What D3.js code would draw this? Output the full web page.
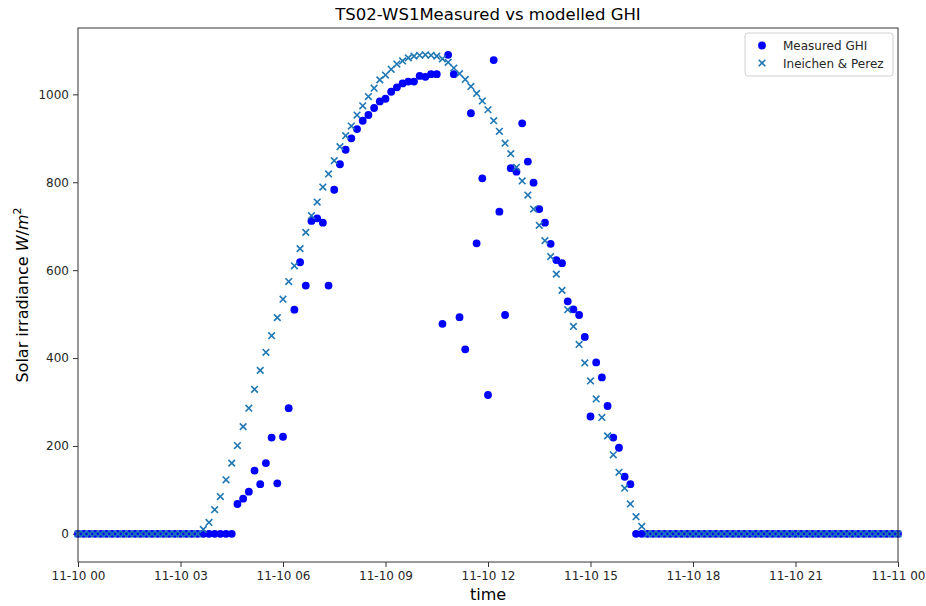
<!DOCTYPE html>
<html><head><meta charset="utf-8">
<script src="https://cdn.jsdelivr.net/npm/d3@7"></script>
<style>body{margin:0;background:#fff;} text{font-family:"DejaVu Sans",sans-serif;}</style>
</head><body>
<svg id="chart" width="926" height="606"></svg>
<script>
// 10-minute samples from 11-10 00:00 to 11-11 00:00
const startTime = "2020-11-10T00:00:00Z";
const stepMinutes = 10;
const measuredGHI = [
0,0,0,0,0,0,0,0,0,0, 0,0,0,0,0,0,0,0,0,0, 0,0,0,0,0,0,0,0,68,80,
96,144,113,161,219,115,221,286,510,618, 565,712,718,708,565,783,841,874,900,921,
940,953,969,984,990,1006,1016,1025,1029,1029, 1042,1040,1046,1046,478,1090,1046,493,420,957,
661,809,316,1078,733,498,832,824,934,847, 799,739,708,660,623,616,529,511,498,448,
267,390,356,291,219,196,130,113,0,0, 0,0,0,0,0,0,0,0,0,0,
0,0,0,0,0,0,0,0,0,0, 0,0,0,0,0,0,0,0,0,0, 0,0,0,0,0,0,0,0,0,0,
0,0,0,0,0
];
const ineichenPerez = [
0,0,0,0,0,0,0,0,0,0, 0,0,0,0,0,0,0,0,0,0, 0,0,10,26,55,85,123,161,201,244,
286,329,372,413,451,492,534,574,610,649, 686,724,755,789,819,849,881,906,928,953,
974,995,1014,1033,1044,1057,1069,1076,1083,1087, 1089,1090,1089,1087,1081,1073,1060,1047,1034,1018,
1002,985,965,940,916,889,865,834,803,771, 739,702,667,631,591,554,510,472,431,389,
348,307,265,223,180,140,104,68,39,17, 0,0,0,0,0,0,0,0,0,0,
0,0,0,0,0,0,0,0,0,0, 0,0,0,0,0,0,0,0,0,0, 0,0,0,0,0,0,0,0,0,0,
0,0,0,0,0
];
const yTicks = [0,200,400,600,800,1000];
const xTickHours = [0,3,6,9,12,15,18,21,24];
const seriesNames = ["Measured GHI","Ineichen & Perez"];
const yDomain = [-64, 1151];

const t0 = new Date(startTime);
const times = measuredGHI.map((_, i) => new Date(t0.getTime() + i*stepMinutes*60000));

const svg = d3.select("#chart");
const m = {left:78, right:28, top:28, bottom:44};
const W = 926, H = 606;
const x = d3.scaleUtc().domain([times[0], times[times.length-1]]).range([m.left, W-m.right]);
const y = d3.scaleLinear().domain(yDomain).range([H-m.bottom, m.top]);

// axes
const xTickVals = xTickHours.map(h => new Date(t0.getTime() + h*3600000));
const fmt = d3.utcFormat("%m-%d %H");
const xAxis = svg.append("g").attr("transform",`translate(0,${H-m.bottom})`)
  .call(d3.axisBottom(x).tickValues(xTickVals).tickFormat(fmt).tickSizeOuter(0).tickSize(5).tickPadding(4));
const yAxis = svg.append("g").attr("transform",`translate(${m.left},0)`)
  .call(d3.axisLeft(y).tickValues(yTicks).tickFormat(d3.format("d")).tickSizeOuter(0).tickSize(5).tickPadding(4));
[xAxis,yAxis].forEach(a=>{
  a.select(".domain").remove();
  a.selectAll("text").attr("font-size",12).attr("fill","#262626").attr("font-family","DejaVu Sans");
  a.selectAll("line").attr("stroke","#333");
});

// measured points
svg.append("g").selectAll("circle").data(measuredGHI).join("circle")
  .attr("cx",(d,i)=>x(times[i])).attr("cy",d=>y(d)).attr("r",3.9).attr("fill","#0000ff");

// modelled crosses
const crossPath = "M-3.3,-3.3L3.3,3.3M-3.3,3.3L3.3,-3.3";
svg.append("g").selectAll("path").data(ineichenPerez).join("path")
  .attr("d",crossPath).attr("transform",(d,i)=>`translate(${x(times[i])},${y(d)})`)
  .attr("stroke","#1f77b4").attr("stroke-width",1.6).attr("fill","none");

// frame
svg.append("rect").attr("x",m.left).attr("y",m.top).attr("width",W-m.left-m.right).attr("height",H-m.top-m.bottom)
  .attr("fill","none").attr("stroke","#333").attr("stroke-width",1);

// title & labels
svg.append("text").attr("x",(m.left+W-m.right)/2).attr("y",20).attr("text-anchor","middle")
  .attr("font-size",16.5).attr("fill","#000").text("TS02-WS1Measured vs modelled GHI");
svg.append("text").attr("x",(m.left+W-m.right)/2).attr("y",600).attr("text-anchor","middle")
  .attr("font-size",16).attr("fill","#000").text("time");
const yl = svg.append("text").attr("transform",`translate(28,${(m.top+H-m.bottom)/2}) rotate(-90)`)
  .attr("text-anchor","middle").attr("font-size",16).attr("fill","#000");
yl.append("tspan").text("Solar irradiance ");
yl.append("tspan").attr("font-style","italic").text("W");
yl.append("tspan").text("/");
yl.append("tspan").attr("font-style","italic").text("m");
yl.append("tspan").attr("dy",-7).attr("font-size",11).text("2");

// legend
const lg = svg.append("g").attr("transform","translate(745,33)");
lg.append("rect").attr("width",148).attr("height",43).attr("rx",3).attr("fill","#fff").attr("fill-opacity",0.8)
  .attr("stroke","#d0d0d0");
lg.append("circle").attr("cx",17).attr("cy",12.5).attr("r",3.9).attr("fill","#0000ff");
lg.append("path").attr("d",crossPath).attr("transform","translate(17,30)").attr("stroke","#1f77b4").attr("stroke-width",1.6);
seriesNames.forEach((s,i)=>lg.append("text").attr("x",38).attr("y",17+i*17.5).attr("font-size",12).attr("fill","#262626").text(s));
</script>
</body></html>
